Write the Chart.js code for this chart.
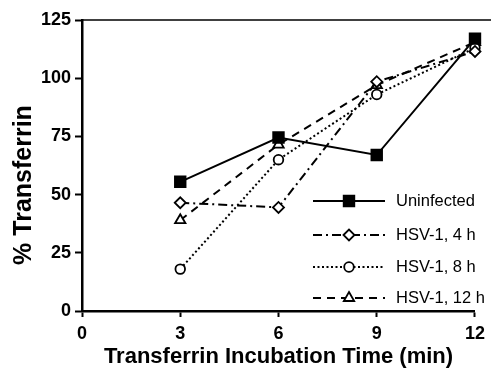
<!DOCTYPE html>
<html>
<head>
<meta charset="utf-8">
<script src="https://cdn.jsdelivr.net/npm/chart.js"></script>
<style>
  body { margin: 0; background: #fff; }
  #wrap { width: 491px; height: 372px; }
</style>
</head>
<body>
<div id="wrap"><canvas id="chart" width="491" height="372"></canvas></div>
<script>
const times = [3, 6, 9, 12];
const uninfected = [55.5, 74.5, 67, 117];
const hsv4h = [46.5, 44.5, 98.5, 111.5];
const hsv8h = [18, 65, 93, 113];
const hsv12h = [39, 71.5, 97, 115.5];
const seriesLabels = ['Uninfected', 'HSV-1, 4 h', 'HSV-1, 8 h', 'HSV-1, 12 h'];
const yTitle = '% Transferrin';
const xTitle = 'Transferrin Incubation Time (min)';

const FONT = '"Liberation Sans", Arial, Helvetica, sans-serif';

function pts(values) {
    return values.map((v, i) => ({ x: times[i], y: v }));
}

function makeSet(label, values, style, radius, fill, dash) {
    return {
        label,
        data: pts(values),
        borderColor: '#000',
        borderWidth: 2,
        borderDash: dash,
        pointStyle: style,
        pointRadius: radius,
        pointBackgroundColor: fill,
        pointBorderColor: '#000',
        pointBorderWidth: 1.8,
        tension: 0,
        fill: false,
        clip: false
    };
}

// top frame line, y title (sits below centre in the original) and the in-plot legend
const extras = {
    id: 'extras',
    afterDraw(chart) {
        const ctx = chart.ctx;
        const area = chart.chartArea;
        ctx.save();
        ctx.strokeStyle = '#000';
        ctx.lineWidth = 1.5;
        ctx.beginPath();
        ctx.moveTo(area.left, area.top);
        ctx.lineTo(chart.width, area.top);
        ctx.stroke();

        ctx.save();
        ctx.translate(24, 185);
        ctx.rotate(-Math.PI / 2);
        ctx.fillStyle = '#000';
        ctx.font = 'bold 25px ' + FONT;
        ctx.textAlign = 'center';
        ctx.textBaseline = 'middle';
        ctx.fillText(yTitle, 0, 0);
        ctx.restore();

        const x0 = 313, x1 = 385, xm = 349, tx = 396;
        const rows = [201, 235, 267, 298];
        chart.data.datasets.forEach((ds, i) => {
            const y = rows[i];
            ctx.save();
            ctx.strokeStyle = '#000';
            ctx.lineWidth = ds.borderWidth;
            ctx.setLineDash(ds.borderDash || []);
            ctx.beginPath();
            ctx.moveTo(x0, y);
            ctx.lineTo(x1, y);
            ctx.stroke();
            ctx.setLineDash([]);
            ctx.fillStyle = ds.pointBackgroundColor;
            ctx.strokeStyle = '#000';
            ctx.lineWidth = ds.pointBorderWidth;
            Chart.helpers.drawPoint(ctx, {
                pointStyle: ds.pointStyle,
                radius: ds.pointRadius,
                rotation: 0,
                borderWidth: ds.pointBorderWidth
            }, xm, y);
            ctx.restore();
            ctx.fillStyle = '#000';
            ctx.font = '16.5px ' + FONT;
            ctx.textBaseline = 'middle';
            ctx.textAlign = 'left';
            ctx.fillText(ds.label, tx, y);
        });
        ctx.restore();
    }
};

new Chart(document.getElementById('chart'), {
    type: 'line',
    data: {
        datasets: [
            makeSet(seriesLabels[0], uninfected, 'rect', 7.5, '#000', []),
            makeSet(seriesLabels[1], hsv4h, 'rectRot', 5.5, '#fff', [9, 4, 2, 4]),
            makeSet(seriesLabels[2], hsv8h, 'circle', 4.8, '#fff', [2, 2.5]),
            makeSet(seriesLabels[3], hsv12h, 'triangle', 6, '#fff', [8, 6])
        ]
    },
    options: {
        responsive: false,
        animation: false,
        layout: { padding: { top: 20, right: 13, left: 0, bottom: 0 } },
        plugins: { legend: { display: false }, tooltip: { enabled: false } },
        scales: {
            x: {
                type: 'linear',
                min: 0,
                max: 12,
                afterFit(scale) { scale.height = 61; },
                ticks: {
                    stepSize: 3,
                    color: '#000',
                    padding: 6,
                    font: { family: FONT, size: 18, weight: 'bold' }
                },
                grid: { drawOnChartArea: false, tickLength: 6, tickWidth: 2, tickColor: '#000' },
                border: { color: '#000', width: 2.5 },
                title: {
                    display: true,
                    text: xTitle,
                    color: '#000',
                    padding: { top: 0, bottom: 2 },
                    font: { family: FONT, size: 22, weight: 'bold' }
                }
            },
            y: {
                min: 0,
                max: 125,
                afterFit(scale) { scale.width = 82; },
                ticks: {
                    stepSize: 25,
                    color: '#000',
                    padding: 4,
                    font: { family: FONT, size: 18, weight: 'bold' }
                },
                grid: { drawOnChartArea: false, tickLength: 7, tickWidth: 2, tickColor: '#000' },
                border: { color: '#000', width: 2.5 }
            }
        }
    },
    plugins: [extras]
});
</script>
</body>
</html>
